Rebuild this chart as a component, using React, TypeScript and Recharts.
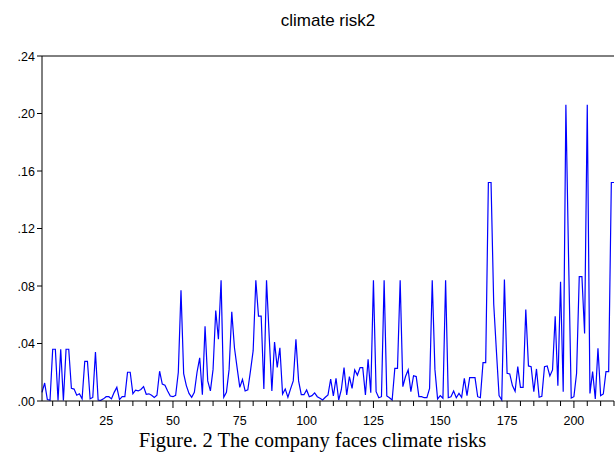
import { LineChart, Line, XAxis, YAxis, ReferenceLine } from "recharts";

// climate risk2, observations 1..215
const riskValues = [
  0.006, 0.0125, 0.001, 0.0005, 0.036, 0.036, 0.0003, 0.036, 0.0003, 0.036,
  0.036, 0.0088, 0.0083, 0.004, 0.005, 0.0015, 0.0276, 0.0276, 0.0015, 0.0025,
  0.034, 0.0007, 0.0005, 0.0015, 0.003, 0.003, 0.0015, 0.006, 0.0095, 0.001,
  0.003, 0.003, 0.02, 0.02, 0.005, 0.0075, 0.007, 0.008, 0.01, 0.0047,
  0.005, 0.004, 0.0024, 0.004, 0.0207, 0.0118, 0.011, 0.007, 0.0035, 0.003,
  0.004, 0.02, 0.077, 0.019, 0.0107, 0.0053, 0.0026, 0.006, 0.02, 0.03,
  0.0044, 0.052, 0.014, 0.007, 0.022, 0.063, 0.043, 0.084, 0.0026, 0.006,
  0.022, 0.062, 0.037, 0.023, 0.0095, 0.015, 0.007, 0.0077, 0.021, 0.035,
  0.084, 0.059, 0.059, 0.0084, 0.084, 0.045, 0.007, 0.041, 0.0234, 0.037,
  0.0049, 0.0084, 0.0026, 0.0084, 0.014, 0.043, 0.014, 0.0044, 0.0044, 0.0077,
  0.003, 0.0037, 0.0056, 0.003, 0.0019, 0.0007, 0.0026, 0.0042, 0.0153, 0.0035,
  0.0158, 0.0007, 0.008, 0.0232, 0.0042, 0.017, 0.0088, 0.0216, 0.018, 0.0232,
  0.0232, 0.0042, 0.029, 0.0058, 0.084, 0.0065, 0.0023, 0.003, 0.084, 0.0035,
  0.0023, 0.0007, 0.0227, 0.0227, 0.084, 0.01, 0.017, 0.0216, 0.0065, 0.0176,
  0.017, 0.003, 0.003, 0.0023, 0.0023, 0.0088, 0.084, 0.022, 0.0014, 0.0037,
  0.0019, 0.084, 0.0023, 0.003, 0.007, 0.0023, 0.0053, 0.0025, 0.0158, 0.0037,
  0.0162, 0.0162, 0.0162, 0.003, 0.0023, 0.0267, 0.0267, 0.152, 0.152, 0.0675,
  0.035, 0.0037, 0.0007, 0.0845, 0.0193, 0.0188, 0.0107, 0.0067, 0.0239, 0.0095,
  0.0095, 0.0636, 0.0244, 0.0239, 0.0065, 0.0223, 0.0026, 0.0032, 0.0239, 0.0244,
  0.0174, 0.0216, 0.059, 0.0107, 0.083, 0.0065, 0.206, 0.1, 0.002, 0.003,
  0.0193, 0.0865, 0.0865, 0.047, 0.206, 0.0053, 0.0204, 0.0014, 0.0367, 0.0037,
  0.0049, 0.0204, 0.0204, 0.152, 0.152,
];

const xTicks = [5, 10, 15, 20, 25, 30, 35, 40, 45, 50, 55, 60, 65, 70, 75, 80, 85, 90, 95, 100,
  105, 110, 115, 120, 125, 130, 135, 140, 145, 150, 155, 160, 165, 170, 175, 180, 185, 190,
  195, 200, 205, 210, 215];
const yTicks = [0, 0.04, 0.08, 0.12, 0.16, 0.2, 0.24];

const data = riskValues.map((v, i) => ({ obs: i + 1, risk: v }));

const tickFont = "'Liberation Sans', Arial, sans-serif";

function XTick(props: any) {
  const { x, y, payload } = props;
  const major = payload.value % 25 === 0;
  return (
    <g>
      <line x1={x} x2={x} y1={y} y2={y + (major ? 7 : 5)} stroke="#000" strokeWidth={1} />
      {major && (
        <text x={x} y={y + 24} textAnchor="middle" fontSize={12.5} fontFamily={tickFont} fill="#000">
          {payload.value}
        </text>
      )}
    </g>
  );
}

function YTick(props: any) {
  const { x, y, payload } = props;
  const label = payload.value.toFixed(2).replace(/^0/, "");
  return (
    <g>
      <line x1={x - 5} x2={x} y1={y} y2={y} stroke="#000" strokeWidth={1} />
      <text x={x - 7} y={y + 4.5} textAnchor="end" fontSize={12.5} fontFamily={tickFont} fill="#000">
        {label}
      </text>
    </g>
  );
}

export default function App() {
  return (
    <div style={{ position: "absolute", left: 0, top: 0, width: 615, height: 455, background: "#fff" }}>
      <div
        style={{
          position: "absolute",
          left: 42,
          top: 12,
          width: 572,
          textAlign: "center",
          fontFamily: tickFont,
          fontSize: 17,
          lineHeight: "17px",
        }}
      >
        climate risk2
      </div>
      <LineChart width={615} height={455} data={data} margin={{ top: 56, right: 1, bottom: 0, left: 0 }}>
        <XAxis
          dataKey="obs"
          type="number"
          domain={[1, 215]}
          ticks={xTicks}
          interval={0}
          height={54}
          tickSize={0}
          tickMargin={0}
          tickLine={false}
          axisLine={{ stroke: "#000" }}
          tick={(p: any) => <XTick {...p} />}
        />
        <YAxis
          type="number"
          domain={[0, 0.24]}
          ticks={yTicks}
          interval={0}
          width={42}
          tickSize={0}
          tickMargin={0}
          tickLine={false}
          axisLine={{ stroke: "#000" }}
          tick={(p: any) => <YTick {...p} />}
        />
        <ReferenceLine y={0.24} stroke="#000" strokeWidth={1} />
        <Line
          type="linear"
          dataKey="risk"
          stroke="#0000ff"
          strokeWidth={1.2}
          dot={false}
          isAnimationActive={false}
        />
      </LineChart>
      <div
        style={{
          position: "absolute",
          left: 5,
          top: 430,
          width: 615,
          textAlign: "center",
          fontFamily: "'Liberation Serif', 'Times New Roman', serif",
          fontSize: 20.5,
          lineHeight: "20px",
        }}
      >
        Figure. 2 The company faces climate risks
      </div>
    </div>
  );
}
